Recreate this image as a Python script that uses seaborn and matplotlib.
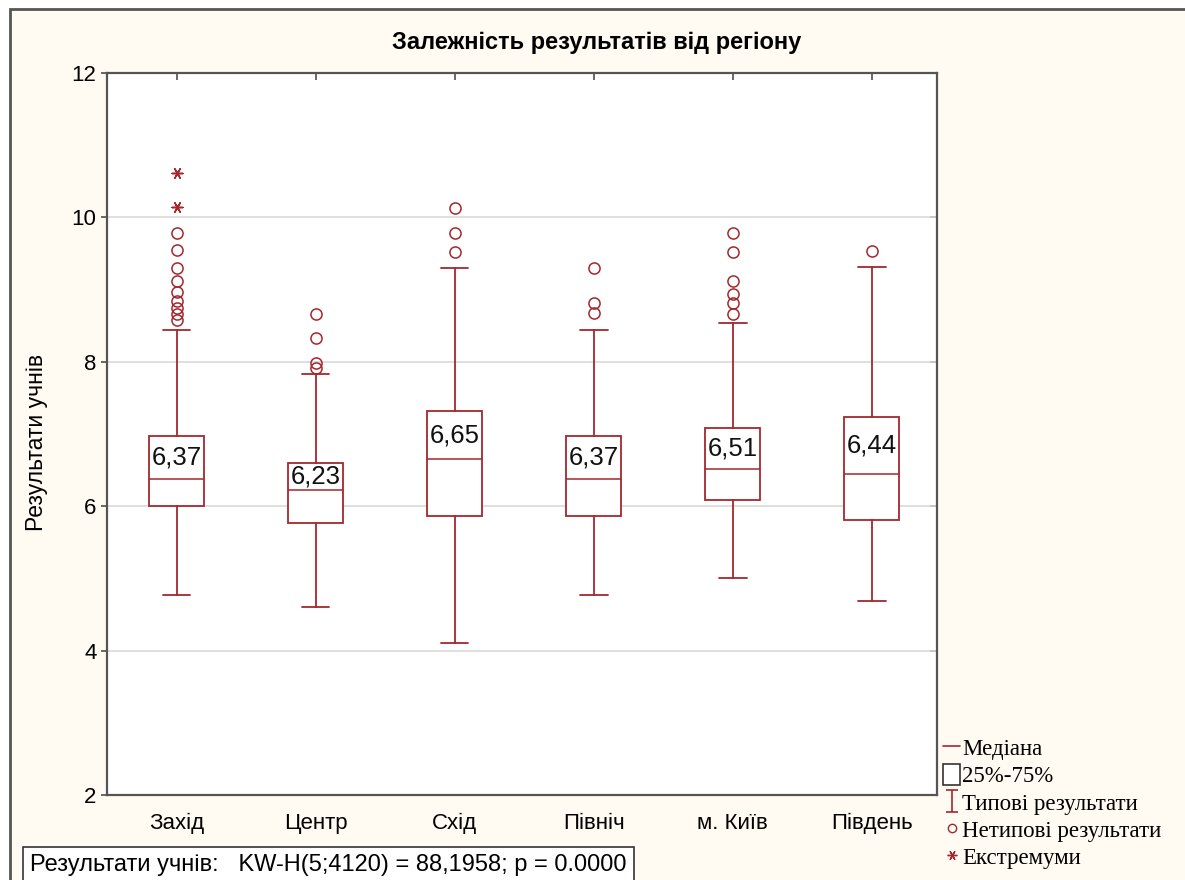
import numpy as np
import pandas as pd
import matplotlib
matplotlib.use("Agg")
import matplotlib.pyplot as plt
import seaborn as sns
from matplotlib.lines import Line2D
from matplotlib.patches import Patch, Rectangle
from matplotlib.path import Path

# Data
regions = ['Захід', 'Центр', 'Схід', 'Північ', 'м. Київ', 'Південь']
medians = [6.37, 6.23, 6.65, 6.37, 6.51, 6.44]
median_labels = ['6,37', '6,23', '6,65', '6,37', '6,51', '6,44']
q1 = [6.00, 5.77, 5.86, 5.86, 6.09, 5.81]
q3 = [6.97, 6.60, 7.32, 6.97, 7.08, 7.24]
whisker_low = [4.77, 4.60, 4.11, 4.77, 5.00, 4.69]
whisker_high = [8.44, 7.83, 9.30, 8.44, 8.54, 9.31]
outliers = [
    [9.78, 9.55, 9.30, 9.12, 8.96, 8.84, 8.74, 8.66, 8.58],
    [8.66, 8.33, 7.98, 7.92],
    [10.13, 9.78, 9.52],
    [9.30, 8.81, 8.68],
    [9.78, 9.52, 9.12, 8.94, 8.81, 8.66],
    [9.53],
]
extremes = [[10.62, 10.14], [], [], [], [], []]
y_ticks = [2, 4, 6, 8, 10, 12]
stat_text = 'Результати учнів:   KW-H(5;4120) = 88,1958; p = 0.0000'

RED = '#A3272E'
CREAM = '#FFFBF2'

sns.set_theme(style="white")
plt.rcParams['font.family'] = ['Liberation Sans', 'DejaVu Sans']
plt.rcParams['text.color'] = 'black'
plt.rcParams['xtick.color'] = 'black'
plt.rcParams['ytick.color'] = 'black'

fig = plt.figure(figsize=(11.85, 8.8), dpi=100)
fig.patch.set_facecolor('white')
# window frame
frame = Rectangle((10 / 1185, -0.01), 1.0, 1 - 9 / 880 + 0.01,
                  transform=fig.transFigure, facecolor=CREAM,
                  edgecolor='#555555', linewidth=2, zorder=-10)
fig.add_artist(frame)

ax = fig.add_axes([107 / 1185, 1 - 795 / 880, (937 - 107) / 1185, (795 - 73) / 880])
ax.set_facecolor('white')

stats = []
for i, name in enumerate(regions):
    stats.append(dict(label=name, med=medians[i], q1=q1[i], q3=q3[i],
                      whislo=whisker_low[i], whishi=whisker_high[i],
                      fliers=outliers[i]))

pos = np.arange(len(regions))
ax.bxp(stats, positions=pos, widths=0.4, patch_artist=True, capwidths=0.2,
       boxprops=dict(facecolor='white', edgecolor=RED, linewidth=1.3),
       medianprops=dict(color=RED, linewidth=1.1),
       whiskerprops=dict(color=RED, linewidth=1.3),
       capprops=dict(color=RED, linewidth=1.3),
       flierprops=dict(marker='o', markerfacecolor='none', markeredgecolor=RED,
                       markersize=8, markeredgewidth=1.1),
       zorder=3)

# extremes
ext_df = pd.DataFrame([(pos[i], v) for i, vals in enumerate(extremes) for v in vals],
                      columns=['pos', 'value'])
sns.scatterplot(data=ext_df, x='pos', y='value', ax=ax, marker=(6, 2, 90), s=60,
                color=RED, linewidth=1.1, zorder=4, legend=False)

# median labels
for i in range(len(regions)):
    ax.text(pos[i], (q3[i] + medians[i]) / 2, median_labels[i], ha='center', va='center',
            fontsize=18.5, color='#111111', zorder=5)

ax.set_xlim(-0.5, 5.47)
ax.set_ylim(2, 12)
ax.set_yticks(y_ticks)
ax.set_xticks(pos)
ax.set_xticklabels(regions, fontsize=16)
ax.tick_params(axis='y', labelsize=16, direction='out', length=4, left=True, color='#555555')
ax.tick_params(axis='x', length=0, pad=13)
ax.set_xlabel('')
ax.set_ylabel('')
ax.yaxis.grid(True, color='#d9d9d9', linewidth=1.2, zorder=0)
ax.set_axisbelow(True)
for s in ax.spines.values():
    s.set_color('#555555')
    s.set_linewidth(1.6)

sec_y = ax.secondary_yaxis('right')
sec_y.set_yticks(y_ticks)
sec_y.tick_params(direction='in', length=5, labelright=False, color='#555555')
sec_y.spines['right'].set_visible(False)
sec_x = ax.secondary_xaxis('top')
sec_x.set_xticks(pos)
sec_x.tick_params(direction='in', length=5, labeltop=False, color='#555555')
sec_x.spines['top'].set_visible(False)

fig.text(597 / 1185, 1 - 43 / 880, 'Залежність результатів від регіону',
         ha='center', va='center', fontsize=17, fontweight='bold')
fig.text(37 / 1185, 1 - 442 / 880, 'Результати учнів', rotation=90,
         ha='center', va='center', fontsize=16.5)

fig.text(30 / 1185, 1 - 865 / 880, stat_text, ha='left', va='center', fontsize=17,
         bbox=dict(boxstyle='square,pad=0.3', facecolor='white', edgecolor='#333333',
                   linewidth=1.2))

# legend
ibeam = Path([(-0.5, 1), (0.5, 1), (0, 1), (0, -1), (-0.5, -1), (0.5, -1)],
             [Path.MOVETO, Path.LINETO, Path.MOVETO, Path.LINETO, Path.MOVETO, Path.LINETO])
handles = [
    Line2D([0], [0], color=RED, linewidth=1.2),
    Patch(facecolor='white', edgecolor='#333333', linewidth=1.2),
    Line2D([0], [0], linestyle='none', marker=ibeam, markersize=16, markeredgecolor=RED,
           markeredgewidth=1.2),
    Line2D([0], [0], linestyle='none', marker='o', markersize=6, markerfacecolor='none',
           markeredgecolor=RED, markeredgewidth=1),
    Line2D([0], [0], linestyle='none', marker=(6, 2, 90), markersize=7, markeredgecolor=RED,
           color=RED, markeredgewidth=1),
]
labels = ['Медіана', '25%-75%', 'Типові результати', 'Нетипові результати', 'Екстремуми']
fig.legend(handles, labels, loc='upper left', bbox_to_anchor=(943 / 1185, 1 - 737 / 880),
           frameon=False, handlelength=0.75, handleheight=1.0, handletextpad=0.1,
           labelspacing=0.18, borderpad=0, borderaxespad=0,
           prop={'family': 'Liberation Serif', 'size': 16.5})

fig.savefig('out.png', dpi=100, facecolor=fig.get_facecolor())
